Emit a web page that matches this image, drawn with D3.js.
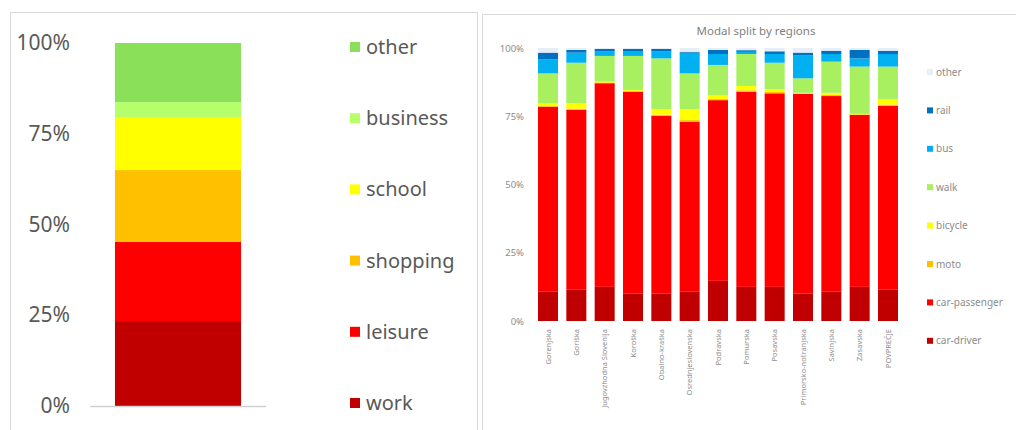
<!DOCTYPE html>
<html>
<head>
<meta charset="utf-8">
<script src="https://cdn.jsdelivr.net/npm/d3@7"></script>
<style>
  body { margin: 0; background: #fff; }
  svg { display: block; font-family: "Noto Sans", sans-serif; }
</style>
</head>
<body>
<svg id="chart" width="1016" height="430"></svg>
<script>
// trip purpose (left)
const purposes = ['work', 'leisure', 'shopping', 'school', 'business', 'other'];
const purposeShare = [23.4, 21.8, 19.8, 14.6, 4.1, 16.3];
const purposeColors = ['#c00000', '#ff0000', '#ffc000', '#ffff00', '#b5ff6a', '#8be05a'];

// modal split by regions (right)
const regions = ['Gorenjska', 'Goriška', 'Jugovzhodna Slovenija', 'Koroška', 'Obalno-kraška',
  'Osrednjeslovenska', 'Podravska', 'Pomurska', 'Posavska', 'Primorsko-notranjska',
  'Savinjska', 'Zasavska', 'POVPREČJE'];
const modes = ['car-driver', 'car-passenger', 'moto', 'bicycle', 'walk', 'bus', 'rail', 'other'];
const modeColors = ['#c00000', '#ff0000', '#ffc000', '#ffff00', '#a8f060', '#00b0f0', '#0070c0', '#e6eef7'];
const carDriver    = [10.7, 11.6, 12.5, 10.1, 10.1, 10.7, 14.7, 12.5, 12.5, 10.1, 10.7, 12.5, 11.6];
const carPassenger = [67.8, 65.7, 74.6, 73.9, 65.0, 62.3, 66.2, 71.5, 70.9, 73.1, 71.7, 63.0, 67.2];
const moto         = [0.4, 0.5, 0.3, 0.3, 0.5, 0.6, 0.4, 0.5, 0.5, 0.2, 0.4, 0.2, 0.5];
const bicycle      = [0.8, 2.0, 0.3, 0.3, 2.0, 3.9, 1.4, 1.6, 1.0, 0.2, 0.8, 0.2, 2.0];
const walk         = [11.0, 14.8, 9.4, 12.5, 18.6, 13.2, 11.1, 11.7, 9.7, 5.3, 11.4, 17.3, 11.9];
const bus          = [5.1, 3.7, 1.6, 1.8, 2.5, 7.6, 4.0, 0.8, 3.2, 8.5, 2.8, 3.0, 4.6];
const rail         = [2.5, 1.0, 1.0, 0.8, 1.0, 0.3, 1.5, 0.6, 1.0, 0.9, 1.2, 3.1, 1.2];
const otherMode    = [1.7, 0.7, 0.3, 0.3, 0.3, 1.4, 0.7, 0.8, 1.2, 1.7, 1.0, 0.7, 1.0];
const pctTicks = [0, 25, 50, 75, 100];

const svg = d3.select('#chart');

// panel frames
svg.append('rect').attr('x', 10.5).attr('y', 12.5).attr('width', 467).attr('height', 430)
  .attr('fill', 'none').attr('stroke', '#d9d9d9');
svg.append('rect').attr('x', 482.5).attr('y', 14.5).attr('width', 540).attr('height', 430)
  .attr('fill', 'none').attr('stroke', '#d9d9d9');

// ---------- left chart ----------
{
  let row = {key: 'all'};
  purposes.forEach((p, i) => row[p] = purposeShare[i]);
  let series = d3.stack().keys(purposes)([row]);
  let x = d3.scaleBand().domain(['all']).range([90, 266]).paddingOuter(0.198);
  let y = d3.scaleLinear().domain([0, 100]).range([406, 43]);
  let g = svg.append('g');
  g.selectAll('rect.seg').data(series).join('rect')
    .attr('class', 'seg')
    .attr('x', x('all'))
    .attr('width', x.bandwidth())
    .attr('y', d => y(d[0][1]))
    .attr('height', d => y(d[0][0]) - y(d[0][1]))
    .attr('fill', (d, i) => purposeColors[i]);
  g.append('line').attr('x1', 90).attr('x2', 266).attr('y1', 406.5).attr('y2', 406.5)
    .attr('stroke', '#d0d0d0').attr('stroke-width', 1.5);
  let ax = g.append('g').attr('transform', 'translate(70,0)')
    .call(d3.axisLeft(y).tickValues(pctTicks).tickFormat(d => d + '%').tickSize(0).tickPadding(0));
  ax.select('.domain').remove();
  ax.selectAll('text').attr('font-size', 21).attr('fill', '#595959')
    .attr('font-family', '"Noto Sans", sans-serif');
  let leg = g.selectAll('g.leg').data(purposes.slice().reverse()).join('g')
    .attr('class', 'leg')
    .attr('transform', (d, i) => `translate(350,${47 + i * 71.2})`);
  leg.append('rect').attr('x', 0).attr('y', -5).attr('width', 10).attr('height', 10)
    .attr('fill', d => purposeColors[purposes.indexOf(d)]);
  leg.append('text').attr('x', 16).attr('y', 0).attr('dy', '0.35em')
    .attr('font-size', 20).attr('fill', '#595959').text(d => d);
}

// ---------- right chart ----------
{
  let cols = [carDriver, carPassenger, moto, bicycle, walk, bus, rail, otherMode];
  let rows = regions.map((r, i) => {
    let o = {region: r};
    modes.forEach((m, j) => o[m] = cols[j][i]);
    return o;
  });
  let series = d3.stack().keys(modes)(rows);
  let x = d3.scaleBand().domain(regions).range([533.75, 902.25]).paddingInner(0.294).paddingOuter(0.15);
  let y = d3.scaleLinear().domain([0, 100]).range([321, 48]);
  let g = svg.append('g');
  g.append('text').attr('x', 756).attr('y', 31).attr('dy', '0.35em')
    .attr('text-anchor', 'middle').attr('font-size', 11.5).attr('fill', '#7f7f7f')
    .text('Modal split by regions');
  g.selectAll('g.ser').data(series).join('g')
    .attr('class', 'ser')
    .attr('fill', (d, i) => modeColors[i])
    .selectAll('rect').data(d => d).join('rect')
    .attr('x', d => x(d.data.region))
    .attr('width', x.bandwidth())
    .attr('y', d => y(d[1]))
    .attr('height', d => y(d[0]) - y(d[1]));
  let ay = g.append('g').attr('transform', 'translate(524,0)')
    .call(d3.axisLeft(y).tickValues(pctTicks).tickFormat(d => d + '%').tickSize(0).tickPadding(0));
  ay.select('.domain').remove();
  ay.selectAll('text').attr('font-size', 9.5).attr('fill', '#8c8c8c')
    .attr('font-family', '"Noto Sans", sans-serif');
  g.selectAll('text.reg').data(regions).join('text')
    .attr('class', 'reg')
    .attr('transform', d => `translate(${x(d) + x.bandwidth() / 2},329) rotate(-90)`)
    .attr('dy', '0.35em')
    .attr('text-anchor', 'end')
    .attr('font-size', 7.5)
    .attr('fill', '#8c8c8c')
    .text(d => d);
  let leg = g.selectAll('g.leg').data(modes.slice().reverse()).join('g')
    .attr('class', 'leg')
    .attr('transform', (d, i) => `translate(927,${72 + i * 38.4})`);
  leg.append('rect').attr('x', 0).attr('y', -3).attr('width', 6).attr('height', 6)
    .attr('fill', d => modeColors[modes.indexOf(d)]);
  leg.append('text').attr('x', 9).attr('y', 0).attr('dy', '0.35em')
    .attr('font-size', 10).attr('fill', '#8c8c8c').text(d => d);
}
</script>
</body>
</html>
